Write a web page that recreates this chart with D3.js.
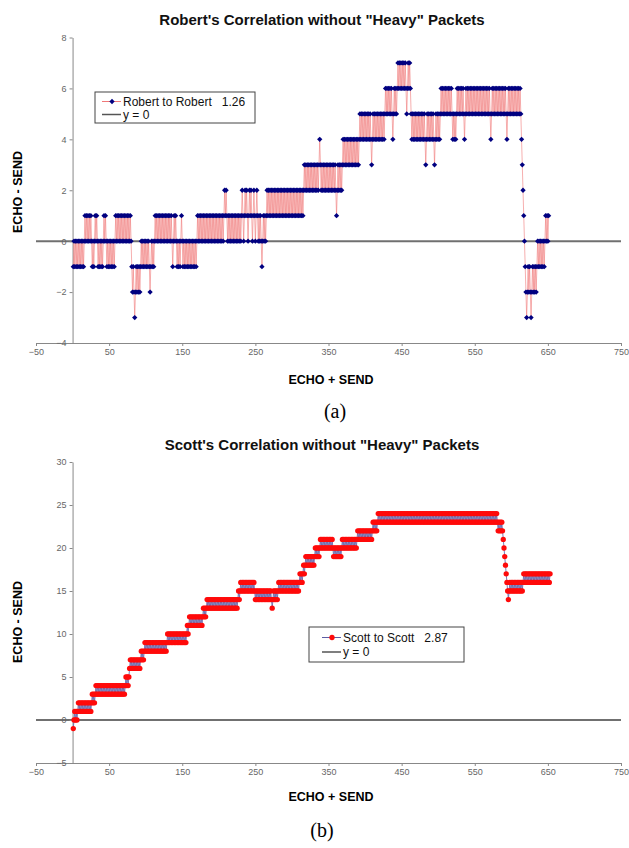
<!DOCTYPE html>
<html>
<head>
<meta charset="utf-8">
<script src="https://cdn.jsdelivr.net/npm/d3@7"></script>
<style>
  body { margin: 0; background: #fff; }
  text { font-family: "Liberation Sans", Arial, sans-serif; }
</style>
</head>
<body>
<div id="chart"></div>
<script>
// Axis ticks
var xTicks = [-50, 50, 150, 250, 350, 450, 550, 650, 750]
var robertTicks = [-4, -2, 0, 2, 4, 6, 8]
var scottTicks = [-5, 0, 5, 10, 15, 20, 25, 30]

// ECHO + SEND runs 1, 2, 3 ... ; values below are ECHO - SEND for each packet
var robertFirst = 1
var robertY = [
  -1,0,-1,0,-1,0,-1,0,-1,0,
  -1,0,-1,0,-1,0,1,0,1,0,
  1,0,1,0,1,0,-1,0,-1,0,
  1,0,1,0,-1,0,-1,0,-1,0,
  -1,0,1,0,1,0,-1,0,-1,0,
  -1,0,-1,0,-1,0,-1,0,1,0,
  1,0,1,0,1,0,1,0,1,0,
  1,0,1,0,1,0,1,0,1,0,
  -1,-2,-1,-2,-3,-2,-1,-2,-1,-2,
  -1,-2,-1,0,-1,0,-1,0,-1,0,
  -1,0,-1,0,-1,-2,-1,0,-1,0,
  -1,0,1,0,1,0,1,0,1,0,
  1,0,1,0,1,0,1,0,1,0,
  1,0,1,0,1,0,-1,0,1,0,
  1,0,-1,0,-1,0,-1,0,1,0,
  -1,0,-1,0,-1,0,-1,0,-1,0,
  -1,0,-1,0,-1,0,-1,0,-1,0,
  1,0,1,0,1,0,1,0,1,0,
  1,0,1,0,1,0,1,0,1,0,
  1,0,1,0,1,0,1,0,1,0,
  1,0,1,0,1,0,1,2,1,2,
  1,0,1,0,1,0,1,0,1,0,
  1,0,1,0,1,0,1,0,1,0,
  1,2,1,0,1,2,1,2,1,0,
  1,2,1,2,1,0,1,2,1,0,
  1,2,1,0,1,0,1,0,-1,0,
  1,0,1,0,1,2,1,2,1,2,
  1,2,1,2,1,2,1,2,1,2,
  1,2,1,2,1,2,1,2,1,2,
  1,2,1,2,1,2,1,2,1,2,
  1,2,1,2,1,2,1,2,1,2,
  1,2,1,2,1,2,3,2,3,2,
  3,2,3,2,3,2,3,2,3,2,
  3,2,3,2,3,2,3,4,3,2,
  3,2,3,2,3,2,3,2,3,2,
  3,2,3,2,3,2,3,2,3,2,
  1,2,3,2,3,2,3,2,3,4,
  3,4,3,4,3,4,3,4,3,4,
  3,4,3,4,3,4,3,4,3,4,
  3,4,5,4,5,4,5,4,5,4,
  5,4,5,4,5,4,5,4,3,4,
  5,4,5,4,5,4,5,4,5,4,
  5,4,5,4,5,4,5,6,5,6,
  5,6,5,6,5,6,5,4,5,6,
  5,6,5,6,7,6,7,6,7,6,
  7,6,7,6,7,6,5,6,7,6,
  7,6,5,4,5,4,5,4,5,4,
  5,4,5,4,5,4,5,4,5,4,
  5,4,3,4,5,4,5,4,5,4,
  5,4,5,4,3,4,5,4,5,4,
  5,4,5,6,5,6,5,6,5,6,
  5,6,5,6,5,6,5,6,5,4,
  5,4,5,4,5,6,5,6,5,6,
  5,6,5,6,5,4,5,6,5,6,
  5,6,5,6,5,6,5,6,5,6,
  5,6,5,6,5,6,5,6,5,6,
  5,6,5,6,5,6,5,6,5,6,
  5,4,5,6,5,6,5,6,5,6,
  5,6,5,6,5,6,5,6,5,6,
  5,6,5,4,5,6,5,6,5,6,
  5,6,5,6,5,6,5,6,5,6,
  5,6,5,4,3,2,1,0,-1,-2,
  -3,-2,-1,-2,-1,-2,-3,-2,-1,-2,
  -1,-2,-1,-2,-1,0,-1,0,-1,0,
  -1,0,-1,0,-1,0,1,0,1,0,
  1
]

var scottFirst = 1
var scottY = [
  -1,0,1,0,1,0,1,2,1,2,
  1,2,1,2,1,2,1,2,1,2,
  1,2,1,2,1,2,3,2,3,2,
  3,4,3,4,3,4,3,4,3,4,
  3,4,3,4,3,4,3,4,3,4,
  3,4,3,4,3,4,3,4,3,4,
  3,4,3,4,3,4,3,4,3,4,
  3,4,5,4,5,4,5,6,7,6,
  7,6,7,6,7,6,7,6,7,6,
  7,6,7,8,7,8,7,8,9,8,
  9,8,9,8,9,8,9,8,9,8,
  9,8,9,8,9,8,9,8,9,8,
  9,8,9,8,9,8,9,8,9,10,
  9,10,9,10,9,10,9,10,9,10,
  9,10,9,10,9,10,9,10,9,10,
  9,10,9,10,9,10,11,10,11,12,
  11,12,11,12,11,12,11,12,11,12,
  11,12,11,12,11,12,11,12,13,12,
  13,12,13,14,13,14,13,14,13,14,
  13,14,13,14,13,14,13,14,13,14,
  13,14,13,14,13,14,13,14,13,14,
  13,14,13,14,13,14,13,14,13,14,
  13,14,13,14,13,14,15,14,15,16,
  15,16,15,16,15,16,15,16,15,16,
  15,16,15,16,15,16,15,16,15,14,
  15,14,15,14,15,14,15,14,15,14,
  15,14,15,14,15,14,15,14,15,14,
  15,14,13,14,15,14,15,14,15,14,
  15,16,15,16,15,16,15,16,15,16,
  15,16,15,16,15,16,15,16,15,16,
  15,16,15,16,15,16,15,16,15,16,
  17,16,17,16,17,18,17,18,19,18,
  19,18,19,18,19,18,19,18,19,18,
  19,20,19,20,19,20,19,20,21,20,
  21,20,21,20,21,20,21,20,21,20,
  21,20,21,20,21,20,19,20,19,20,
  19,20,19,20,19,20,19,20,21,20,
  21,20,21,20,21,20,21,20,21,20,
  21,20,21,20,21,20,21,20,21,22,
  21,22,21,22,21,22,21,22,21,22,
  21,22,21,22,21,22,21,22,21,22,
  23,22,23,22,23,22,23,24,23,24,
  23,24,23,24,23,24,23,24,23,24,
  23,24,23,24,23,24,23,24,23,24,
  23,24,23,24,23,24,23,24,23,24,
  23,24,23,24,23,24,23,24,23,24,
  23,24,23,24,23,24,23,24,23,24,
  23,24,23,24,23,24,23,24,23,24,
  23,24,23,24,23,24,23,24,23,24,
  23,24,23,24,23,24,23,24,23,24,
  23,24,23,24,23,24,23,24,23,24,
  23,24,23,24,23,24,23,24,23,24,
  23,24,23,24,23,24,23,24,23,24,
  23,24,23,24,23,24,23,24,23,24,
  23,24,23,24,23,24,23,24,23,24,
  23,24,23,24,23,24,23,24,23,24,
  23,24,23,24,23,24,23,24,23,24,
  23,24,23,24,23,24,23,24,23,24,
  23,22,23,22,23,22,23,22,21,20,
  19,18,17,16,15,14,15,16,15,16,
  15,16,15,16,15,16,15,16,15,16,
  15,16,15,16,15,16,17,16,17,16,
  17,16,17,16,17,16,17,16,17,16,
  17,16,17,16,17,16,17,16,17,16,
  17,16,17,16,17,16,17,16,17,16,
  17,16,17
]

var svg = d3.select("#chart")
  .append("svg")
  .attr("width", 629)
  .attr("height", 848)

var x = d3.scaleLinear().domain([-50, 750]).range([36, 621])

function toPoints(first, ys) {
  return ys.map((v, i) => ({ x: first + i, y: v }))
}

function drawPanel(p) {
  var y = d3.scaleLinear().domain(p.yDomain).range(p.yRange)
  var g = svg.append("g")

  // title
  g.append("text")
    .attr("x", 322)
    .attr("y", p.titleY)
    .attr("text-anchor", "middle")
    .attr("dy", "0.35em")
    .style("font-size", "15px")
    .style("font-weight", "bold")
    .attr("fill", "#111")
    .text(p.title)

  // y = 0 reference line
  g.append("line")
    .attr("x1", x(-50)).attr("x2", x(750))
    .attr("y1", y(0)).attr("y2", y(0))
    .attr("stroke", "#707070")
    .attr("stroke-width", 2)

  // axes
  var xAxis = g.append("g")
    .attr("transform", `translate(0, ${y(p.yDomain[0])})`)
    .call(d3.axisBottom(x).tickValues(xTicks).tickSize(3).tickSizeOuter(0))

  var yAxis = g.append("g")
    .attr("transform", `translate(${x(0)}, 0)`)
    .call(d3.axisLeft(y).tickValues(p.ticks).tickSize(3).tickSizeOuter(0))

  g.selectAll(".domain, .tick line").attr("stroke", "#888")
  g.selectAll(".tick text")
    .attr("fill", "#666")
    .style("font-size", "9px")
    .style("font-family", "'Liberation Sans', Arial, sans-serif")

  // axis titles
  g.append("text")
    .attr("x", 331)
    .attr("y", p.xLabelY)
    .attr("text-anchor", "middle")
    .attr("dy", "0.35em")
    .style("font-size", "12.5px")
    .style("font-weight", "bold")
    .text("ECHO + SEND")

  g.append("text")
    .attr("transform", `translate(18, ${p.yLabelY}) rotate(-90)`)
    .attr("text-anchor", "middle")
    .attr("dy", "0.35em")
    .style("font-size", "12.5px")
    .style("font-weight", "bold")
    .text("ECHO - SEND")

  // series line and markers
  var pts = toPoints(p.first, p.values)
  var line = d3.line().x(d => x(d.x)).y(d => y(d.y))

  g.append("path")
    .datum(pts)
    .attr("d", line)
    .attr("fill", "none")
    .attr("stroke", p.lineColor)
    .attr("stroke-width", p.lineWidth)

  g.selectAll(".mark")
    .data(pts)
    .enter()
    .append("path")
    .attr("class", "mark")
    .attr("d", p.marker)
    .attr("transform", d => `translate(${x(d.x)}, ${y(d.y)}) rotate(${p.markerRotate})`)
    .attr("fill", p.markerColor)

  // legend
  var lg = g.append("g").attr("transform", `translate(${p.legend[0]}, ${p.legend[1]})`)
  lg.append("rect")
    .attr("width", p.legend[2])
    .attr("height", p.legend[3])
    .attr("fill", "#fff")
    .attr("stroke", "#444")
    .attr("stroke-width", 1)

  var rowY = p.legendRows
  var tx = p.legendTextX
  lg.append("line")
    .attr("x1", tx - 21).attr("x2", tx - 2)
    .attr("y1", rowY[0]).attr("y2", rowY[0])
    .attr("stroke", p.lineColor)
    .attr("stroke-width", 1)
  lg.append("path")
    .attr("d", p.marker)
    .attr("transform", `translate(${tx - 11}, ${rowY[0]}) rotate(${p.markerRotate})`)
    .attr("fill", p.markerColor)
  lg.append("line")
    .attr("x1", tx - 21).attr("x2", tx - 2)
    .attr("y1", rowY[1]).attr("y2", rowY[1])
    .attr("stroke", "#555")
    .attr("stroke-width", 1.5)

  lg.selectAll(".ltext")
    .data([p.seriesName, "y = 0"])
    .enter()
    .append("text")
    .attr("x", tx)
    .attr("y", (d, i) => rowY[i])
    .attr("dy", "0.35em")
    .style("font-size", "12px")
    .style("white-space", "pre")
    .attr("fill", "#111")
    .text(d => d)

  // caption
  g.append("text")
    .attr("x", p.captionX)
    .attr("y", p.captionY)
    .attr("text-anchor", "middle")
    .attr("dy", "0.35em")
    .style("font-family", "'Liberation Serif', 'Times New Roman', serif")
    .style("font-size", "20px")
    .text(p.caption)
}

drawPanel({
  title: "Robert's Correlation without \"Heavy\" Packets",
  titleY: 20,
  yDomain: [-4, 8],
  yRange: [343, 37.5],
  ticks: robertTicks,
  xLabelY: 380,
  yLabelY: 192,
  first: robertFirst,
  values: robertY,
  lineColor: "#f07878",
  lineWidth: 0.6,
  markerColor: "#000080",
  marker: d3.symbol().type(d3.symbolSquare).size(14)(),
  markerRotate: 45,
  legend: [95, 92, 160, 31],
  legendRows: [9.5, 22.5],
  legendTextX: 28,
  seriesName: "Robert to Robert   1.26",
  caption: "(a)",
  captionX: 335,
  captionY: 411
})

drawPanel({
  title: "Scott's Correlation without \"Heavy\" Packets",
  titleY: 445,
  yDomain: [-5, 30],
  yRange: [763, 462],
  ticks: scottTicks,
  xLabelY: 797,
  yLabelY: 622,
  first: scottFirst,
  values: scottY,
  lineColor: "#5c5ca4",
  lineWidth: 0.8,
  markerColor: "#ff0a0a",
  marker: d3.symbol().type(d3.symbolCircle).size(22)(),
  markerRotate: 0,
  legend: [309, 627, 155, 35],
  legendRows: [10.5, 25],
  legendTextX: 34,
  seriesName: "Scott to Scott   2.87",
  caption: "(b)",
  captionX: 322,
  captionY: 830
})
</script>
</body>
</html>
